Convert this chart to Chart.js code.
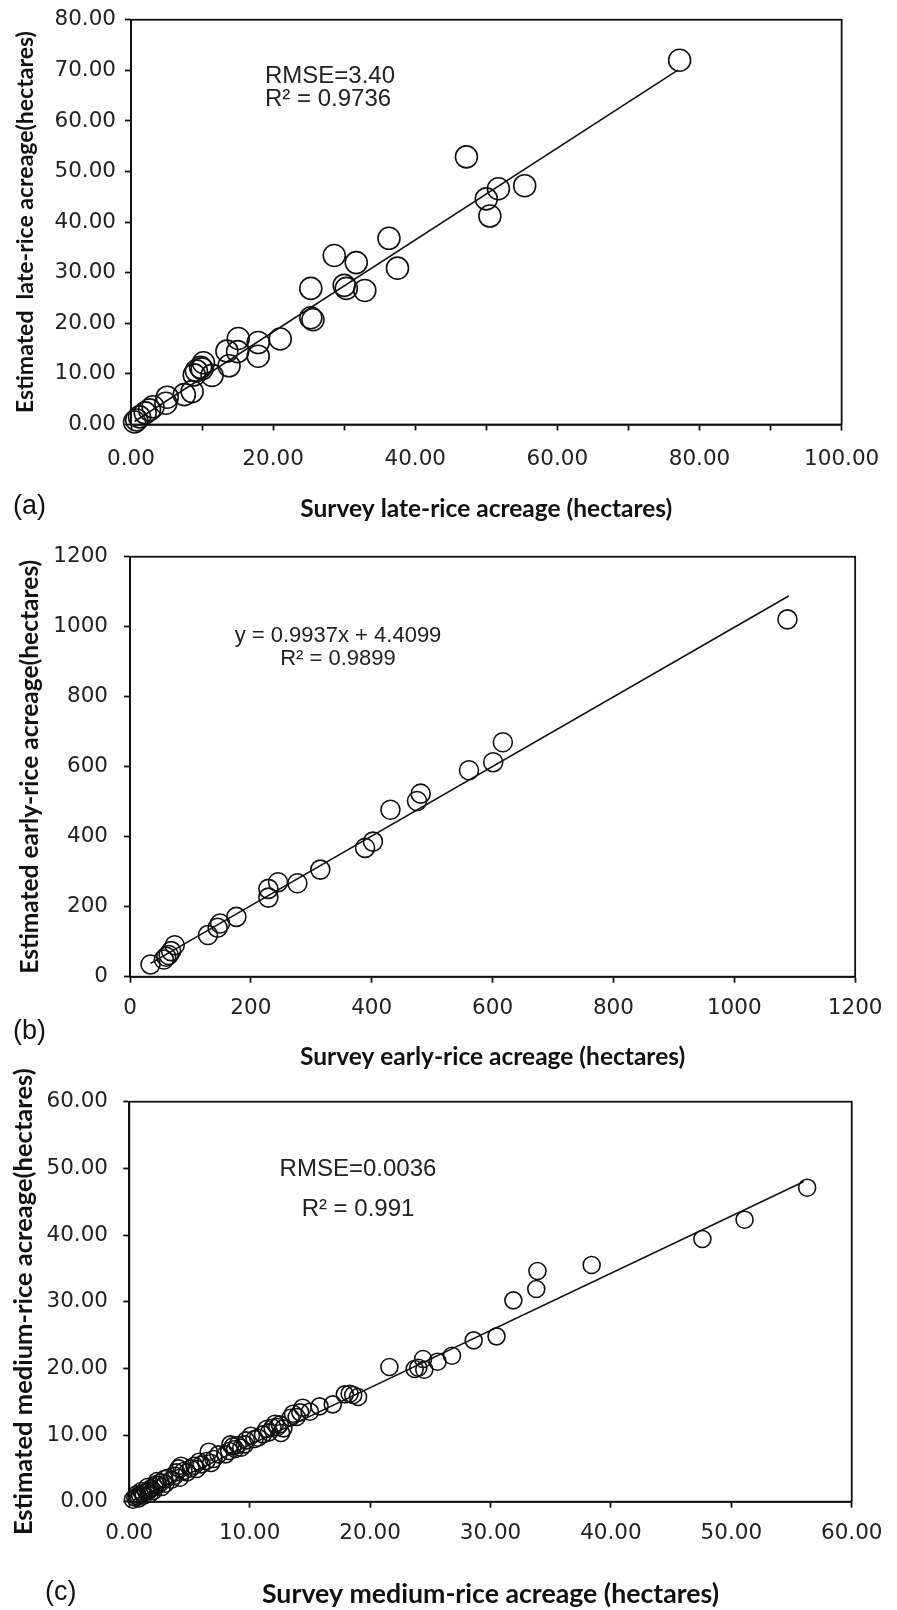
<!DOCTYPE html>
<html>
<head>
<meta charset="utf-8">
<script src="https://cdn.jsdelivr.net/npm/chart.js@4.4.1/dist/chart.umd.min.js"></script>
<style>
  html, body { margin: 0; padding: 0; background: #fff; }
  #page { position: relative; width: 897px; height: 1610px; overflow: hidden; }
  .panel { position: absolute; left: 0; width: 897px; }
  .tag { position: absolute; font-family: "Liberation Sans", Arial, sans-serif; font-size: 27px; line-height: 1; color: #111; }
  .note { position: absolute; width: 300px; font-family: "Liberation Sans", Arial, sans-serif; line-height: 1; color: #222; white-space: nowrap; }
</style>
</head>
<body>
<div id="page">
  <div class="panel" style="top:0;height:530px"><canvas id="chart-late"></canvas></div>
  <div class="panel" style="top:530px;height:540px"><canvas id="chart-early"></canvas></div>
  <div class="panel" style="top:1060px;height:550px"><canvas id="chart-medium"></canvas></div>

  <div class="tag" style="left:13px;top:492px">(a)</div>
  <div class="tag" style="left:13px;top:1017px">(b)</div>
  <div class="tag" style="left:45px;top:1578px">(c)</div>

  <div class="note" style="left:265px;top:63px;font-size:24px">RMSE=3.40</div>
  <div class="note" style="left:265px;top:86px;font-size:24px">R² = 0.9736</div>
  <div class="note" style="left:188px;top:624px;font-size:22px;text-align:center">y = 0.9937x + 4.4099</div>
  <div class="note" style="left:188px;top:647px;font-size:22px;text-align:center">R² = 0.9899</div>
  <div class="note" style="left:208px;top:1156px;font-size:24px;text-align:center">RMSE=0.0036</div>
  <div class="note" style="left:208px;top:1196px;font-size:24px;text-align:center">R² = 0.991</div>
</div>
<script>
// (a) late rice
const lateSurvey = [77.2, 47.2, 51.7, 50.0, 50.5, 55.4, 36.3, 37.5, 28.6, 31.7, 30.0, 30.3, 32.9,
  25.3, 25.3, 25.6, 21.0, 17.9, 17.9, 15.1, 15.0, 13.5, 13.8, 10.2, 9.8, 9.2, 8.9, 11.4, 10.0,
  8.6, 7.5, 5.1, 4.9, 3.1, 2.6, 2.0, 1.2, 0.8, 0.5];
const lateEstimated = [72.0, 52.9, 46.6, 44.6, 41.2, 47.2, 36.8, 30.9, 33.4, 32.0, 27.5, 26.9, 26.5,
  26.9, 21.1, 20.7, 16.9, 16.2, 13.5, 17.0, 14.4, 14.5, 11.6, 12.2, 11.3, 10.6, 9.8, 9.7, 11.0,
  6.5, 5.9, 5.4, 4.2, 3.5, 2.9, 2.3, 1.5, 0.9, 0.5];
const lateFitX = [0.5, 77.0];
const lateFitY = [0.6, 70.1];

// (b) early rice
const earlySurvey = [34, 56, 60, 64, 68, 74, 129, 145, 149, 176, 229, 229, 245, 277, 315,
  389, 402, 431, 475, 481, 561, 601, 617, 1088];
const earlyEstimated = [35, 49, 57, 62, 73, 90, 119, 140, 152, 171, 226, 251, 270, 267, 306,
  368, 386, 477, 502, 523, 590, 613, 670, 1021];
const earlyFitX = [34, 1090];
const earlyFitY = [38, 1088];

// (c) medium rice
const mediumSurvey = [56.3, 51.1, 47.6, 38.4, 33.9, 33.8, 31.9, 30.5, 28.6, 26.8, 25.6, 24.4, 24.5,
  24.0, 23.7, 21.6, 19.0, 18.6, 18.3, 17.9, 16.9, 15.8, 15.0, 14.4, 14.2, 13.9, 13.4, 13.6, 12.5,
  12.6, 12.3, 12.1, 11.4, 11.6, 11.1, 10.4, 10.1, 9.7, 9.6, 9.0, 8.6, 8.8, 8.3, 8.0, 6.6, 7.0,
  6.4, 6.0, 5.4, 5.1, 4.3, 4.1, 4.5, 4.8, 3.8, 3.5, 2.9, 2.6, 2.3, 2.4, 2.1, 1.8, 1.6, 1.4, 1.1,
  0.9, 0.7, 0.5, 0.3,
  0.6, 0.8, 1.0, 1.2, 1.5, 1.7, 2.0, 2.2, 2.7, 3.0, 3.2, 3.9, 4.2, 5.6, 5.8, 6.8, 7.4, 8.4, 9.3,
  10.7, 11.9, 12.8];
const mediumEstimated = [47.1, 42.3, 39.4, 35.5, 34.6, 31.9, 30.2, 24.8, 24.2, 21.9, 21.0, 21.4, 19.8,
  20.1, 19.9, 20.2, 15.7, 16.0, 16.2, 16.1, 14.6, 14.3, 13.5, 14.1, 13.4, 12.7, 12.6, 13.2, 11.6,
  10.3, 11.2, 11.7, 10.9, 10.4, 10.1, 9.4, 9.9, 9.2, 8.6, 8.5, 8.3, 7.9, 7.6, 7.1, 7.5, 6.4,
  6.1, 5.6, 5.4, 5.0, 5.4, 5.0, 4.6, 4.4, 3.9, 3.3, 3.4, 2.9, 3.1, 2.5, 2.2, 2.0, 1.6, 1.5, 1.3,
  1.0, 0.8, 0.6, 0.3,
  1.1, 0.5, 1.6, 0.9, 2.2, 1.2, 1.6, 2.6, 2.2, 2.7, 3.6, 4.4, 3.6, 4.9, 6.0, 5.8, 7.1, 8.6, 8.1,
  9.6, 11.1, 11.0];
const mediumFitX = [0.3, 56.0];
const mediumFitY = [0.2, 48.0];

const INK = '#111';

function pairs(xs, ys) {
  return xs.map((x, i) => ({ x, y: ys[i] }));
}

// box round the plot area (Excel style)
const frame = {
  id: 'frame',
  beforeDatasetsDraw(chart) {
    const { ctx, chartArea: a } = chart;
    ctx.save();
    ctx.strokeStyle = INK;
    ctx.lineWidth = 1.8;
    ctx.strokeRect(a.left, a.top, a.right - a.left, a.bottom - a.top);
    ctx.restore();
  }
};

function axis(p) {
  const vertical = p.position === 'left';
  return {
    type: 'linear',
    position: p.position,
    min: p.min,
    max: p.max,
    afterFit: s => { if (vertical) s.width = p.size; else s.height = p.size; },
    border: { display: true, color: INK, width: 1.8 },
    grid: { drawOnChartArea: false, drawTicks: true, tickLength: 6, tickWidth: 1.8, tickColor: INK },
    ticks: {
      stepSize: p.step,
      autoSkip: false,
      maxRotation: 0,
      padding: p.tickPad,
      color: '#222',
      font: { family: 'DejaVu Sans', size: 21.5, lineHeight: 1 },
      callback: v => {
        const k = v / p.labelEvery;
        return Math.abs(k - Math.round(k)) < 1e-6 ? v.toFixed(p.decimals) : '';
      }
    },
    title: {
      display: true,
      text: p.title,
      color: INK,
      font: { family: 'Lato', weight: 'bold', size: p.titleSize, lineHeight: 1 },
      padding: vertical ? { top: p.titlePad, bottom: 0 } : { top: 0, bottom: p.titlePad }
    }
  };
}

function buildPanel(id, cfg) {
  return new Chart(document.getElementById(id), {
    type: 'scatter',
    data: {
      datasets: [
        {
          data: pairs(cfg.xs, cfg.ys),
          pointStyle: 'circle',
          pointRadius: cfg.radius,
          pointHoverRadius: cfg.radius,
          backgroundColor: 'rgba(0,0,0,0)',
          borderColor: INK,
          borderWidth: 1.6,
          clip: false
        },
        {
          data: pairs(cfg.fitX, cfg.fitY),
          showLine: true,
          pointRadius: 0,
          borderColor: INK,
          borderWidth: 1.6,
          clip: false
        }
      ]
    },
    options: {
      responsive: true,
      maintainAspectRatio: false,
      animation: false,
      devicePixelRatio: 1,
      layout: { padding: cfg.padding },
      plugins: { legend: { display: false }, tooltip: { enabled: false } },
      scales: { x: axis(cfg.x), y: axis(cfg.y) }
    },
    plugins: [frame]
  });
}

buildPanel('chart-late', {
  xs: lateSurvey, ys: lateEstimated, fitX: lateFitX, fitY: lateFitY, radius: 11,
  padding: { left: 0, top: 16, right: 44, bottom: 0 },
  x: { position: 'bottom', min: 0, max: 100, step: 10, labelEvery: 20, decimals: 2, size: 105.5,
       tickPad: 17.75, title: 'Survey late-rice acreage (hectares)', titleSize: 24.5, titlePad: 8.75 },
  y: { position: 'left', min: 0, max: 80, step: 10, labelEvery: 10, decimals: 2, size: 131,
       tickPad: 9, title: 'Estimated  late-rice acreage(hectares)', titleSize: 23, titlePad: 14.5 }
});

buildPanel('chart-early', {
  xs: earlySurvey, ys: earlyEstimated, fitX: earlyFitX, fitY: earlyFitY, radius: 9.5,
  padding: { left: 0, top: 26, right: 38, bottom: 0 },
  x: { position: 'bottom', min: 0, max: 1200, step: 200, labelEvery: 200, decimals: 0, size: 93.3,
       tickPad: 14.5, title: 'Survey early-rice acreage (hectares)', titleSize: 24.5, titlePad: 0.5 },
  y: { position: 'left', min: 0, max: 1200, step: 200, labelEvery: 200, decimals: 0, size: 130,
       tickPad: 16, title: 'Estimated early-rice acreage(hectares)', titleSize: 24.5, titlePad: 17.75 }
});

buildPanel('chart-medium', {
  xs: mediumSurvey, ys: mediumEstimated, fitX: mediumFitX, fitY: mediumFitY, radius: 8.5,
  padding: { left: 0, top: 41.7, right: 30.3, bottom: 0 },
  x: { position: 'bottom', min: 0, max: 60, step: 10, labelEvery: 10, decimals: 2, size: 108.3,
       tickPad: 14.5, title: 'Survey medium-rice acreage (hectares)', titleSize: 26.7, titlePad: 2.65 },
  y: { position: 'left', min: 0, max: 60, step: 10, labelEvery: 10, decimals: 2, size: 129.3,
       tickPad: 15.3, title: 'Estimated medium-rice acreage(hectares)', titleSize: 25.5, titlePad: 11.25 }
});
</script>
</body>
</html>
